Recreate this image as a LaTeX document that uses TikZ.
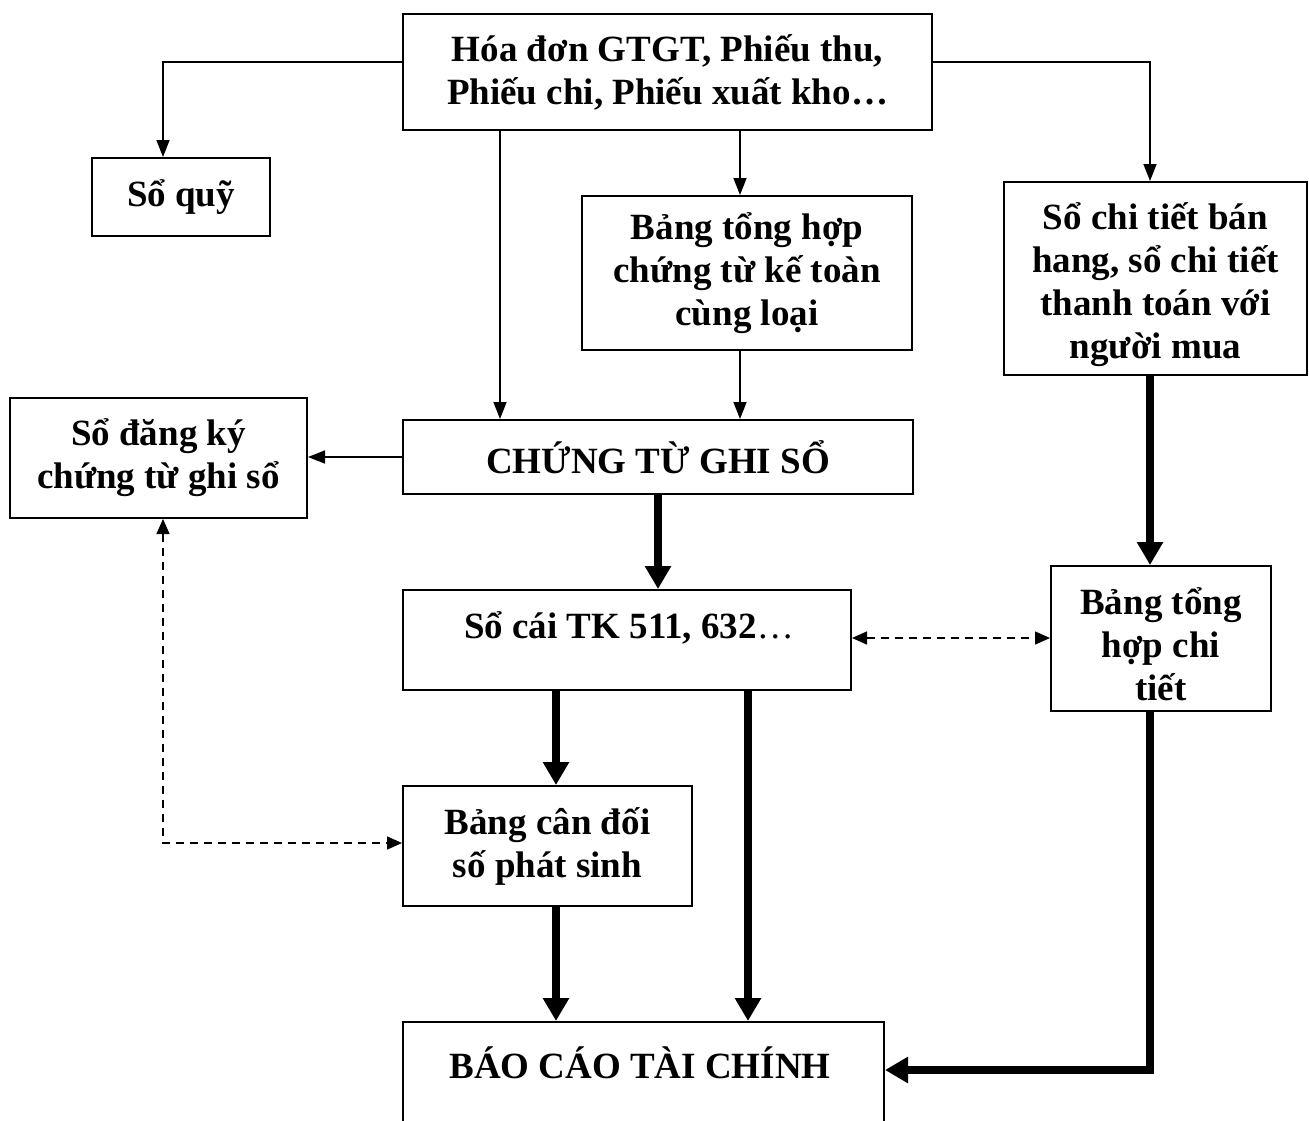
\documentclass[tikz,border=0pt]{standalone}
\usepackage{fontspec}
\setmainfont{Liberation Serif}
\usetikzlibrary{arrows.meta}
\begin{document}
\begin{tikzpicture}[x=1pt,y=-1pt,
  txt/.style={font=\bfseries\fontsize{37}{43}\selectfont},
  box/.style={draw, line width=2pt, inner sep=0pt, align=center, txt},
  lbl/.style={inner sep=0pt, align=center, txt},
  thinarr/.style={line width=1.6pt, -{Triangle[length=17pt,width=13pt]}},
  thickarr/.style={line width=8pt, -{Triangle[length=23pt,width=25pt]}},
  dasharr/.style={line width=1.5pt, dash pattern=on 8pt off 6pt, {Triangle[length=15pt,width=13pt]}-{Triangle[length=15pt,width=13pt]}},
]
\useasboundingbox (0,0) rectangle (1309,1120);

\node[box, minimum width=529pt, minimum height=116pt] (top) at (667.5,72) {Hóa đơn GTGT, Phiếu thu,\\Phiếu chi, Phiếu xuất kho…};
\node[box, minimum width=178pt, minimum height=78pt] (quy) at (181,197) {Sổ quỹ};
\node[box, minimum width=330pt, minimum height=154pt] (bth) at (747,273) {Bảng tổng hợp\\chứng từ kế toàn\\cùng loại};
\node[box, minimum width=303pt, minimum height=193pt] (sct) at (1155.5,278.5) {};
\node[lbl] (scttext) at (1155.5,285) {Sổ chi tiết bán\\hang, sổ chi tiết\\thanh toán với\\người mua};
\node[box, minimum width=297pt, minimum height=120pt] (sdk) at (158.5,458) {Sổ đăng ký\\chứng từ ghi sổ};
\node[box, minimum width=510pt, minimum height=74pt] (ctgs) at (658,457) {CHỨNG TỪ GHI SỔ};
\node[box, minimum width=448pt, minimum height=100pt] (socai) at (627,640) {};
\node[lbl] (socaitext) at (629,628) {Sổ cái TK 511, 632{\mdseries…}};
\node[box, minimum width=220pt, minimum height=145pt] (bthct) at (1161,638.5) {};
\node[lbl] (bthcttext) at (1161,644) {Bảng tổng\\hợp chi\\tiết};
\node[box, minimum width=289pt, minimum height=120pt] (bcd) at (547.5,846) {Bảng cân đối\\số phát sinh};
\node[box, minimum width=481pt, minimum height=110pt] (bctc) at (643.5,1077) {};
\node[lbl] (bctctext) at (640,1063) {BÁO CÁO TÀI CHÍNH};

% thin arrows
\draw[thinarr] ([yshift=10pt]top.west) -| ([xshift=-18pt]quy.north);
\draw[thinarr] ([yshift=10pt]top.east) -| ([xshift=-5.5pt]sct.north);
\draw[thinarr] ([xshift=-167.5pt]top.south) -- ([xshift=-158pt]ctgs.north);
\draw[thinarr] ([xshift=72.5pt]top.south) -- ([xshift=-7pt]bth.north);
\draw[thinarr] ([xshift=-7pt]bth.south) -- ([xshift=82pt]ctgs.north);
\draw[thinarr] (ctgs.west) -- (ctgs.west -| sdk.east);

% thick arrows
\draw[thickarr] (ctgs.south) -- ([xshift=31pt]socai.north);
\draw[thickarr] ([xshift=-5.5pt]sct.south) -- ([xshift=-11pt]bthct.north);
\draw[thickarr] ([xshift=-71pt]socai.south) -- ([xshift=8.5pt]bcd.north);
\draw[thickarr] ([xshift=121pt]socai.south) -- ([xshift=104.5pt]bctc.north);
\draw[thickarr] ([xshift=8.5pt]bcd.south) -- ([xshift=-87.5pt]bctc.north);
\draw[thickarr] ([xshift=-11pt]bthct.south) |- ([yshift=7pt]bctc.east);

% dashed arrows
\draw[dasharr] ([yshift=2pt]socai.east) -- ([yshift=2pt]socai.east -| bthct.west);
\draw[dasharr] ([xshift=4.5pt]sdk.south) |- ([yshift=3pt]bcd.west);
\end{tikzpicture}
\end{document}
